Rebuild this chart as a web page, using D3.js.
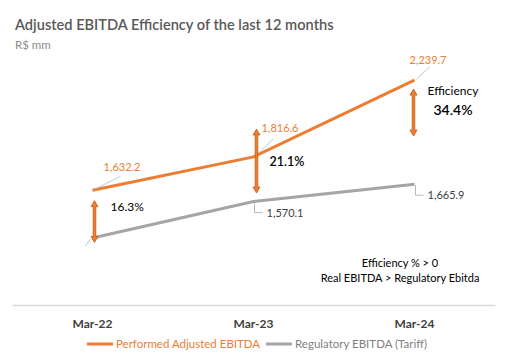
<!DOCTYPE html>
<html>
<head>
<meta charset="utf-8">
<script src="https://cdn.jsdelivr.net/npm/d3@7"></script>
<style>
  body { margin: 0; background: #fff; }
  svg { font-family: Lato, 'Open Sans', sans-serif; }
</style>
</head>
<body>
<svg id="chart" width="507" height="360"></svg>
<script>
// periods on the x axis
const periods = ['Mar-22', 'Mar-23', 'Mar-24'];
// R$ mm, last 12 months
const performed = [1632.2, 1816.6, 2239.7];
const regulatory = [1369.0, 1570.1, 1665.9];
// which points show a value label
const regulatoryLabels = [null, '1,570.1', '1,665.9'];
const performedLabels = ['1,632.2', '1,816.6', '2,239.7'];
// efficiency annotations and the arrows beside them (value units)
const efficiency = ['16.3%', '21.1%', '34.4%'];
const arrowTop = [1575, 1970, 2190];
const arrowBottom = [1345, 1617, 1931];

const svg = d3.select('#chart');

const x = d3.scaleBand()
  .domain(periods)
  .range([12, 495]);

const y = d3.scaleLinear()
  .domain([1000, 2400])
  .range([305, 51]);

const cx = (i) => x(periods[i]) + x.bandwidth() / 2;

// title
svg.append('text')
  .attr('x', 15)
  .attr('y', 30)
  .attr('fill', '#595959')
  .attr('font-size', 14.6)
  .attr('font-weight', 600)
  .text('Adjusted EBITDA Efficiency of the last 12 months');

svg.append('text')
  .attr('x', 15)
  .attr('y', 49)
  .attr('fill', '#8c8c8c')
  .attr('font-size', 11.5)
  .text('R$ mm');

// category axis
const xAxis = svg.append('g')
  .attr('transform', `translate(0, ${y(1000)})`)
  .call(d3.axisBottom(x).tickSize(0).tickPadding(14));
xAxis.select('.domain').attr('stroke', '#d9d9d9').attr('stroke-width', 1.5);
xAxis.selectAll('text')
  .attr('font-family', 'Lato, sans-serif')
  .attr('font-size', 12)
  .attr('font-weight', 700)
  .attr('fill', '#404040');

const line = d3.line()
  .x((d, i) => cx(i))
  .y((d) => y(d));

svg.append('path')
  .datum(regulatory)
  .attr('d', line)
  .attr('fill', 'none')
  .attr('stroke', '#a5a5a5')
  .attr('stroke-width', 3);

svg.append('path')
  .datum(performed)
  .attr('d', line)
  .attr('fill', 'none')
  .attr('stroke', '#ed7d31')
  .attr('stroke-width', 3);

// leader lines + labels for the performed series
const leaderColor = '#a9bcd0';
const leadDx = [28, 20, 15];
const leadDy = [14, 18, 13];
const labDx = [11, 8, -5];
const labDy = [19, 25, 16];
performed.forEach((v, i) => {
  const px = cx(i), py = y(v);
  svg.append('line')
    .attr('x1', px + 2).attr('y1', py - 1)
    .attr('x2', px + leadDx[i]).attr('y2', py - leadDy[i])
    .attr('stroke', leaderColor)
    .attr('stroke-width', 0.8);
  svg.append('text')
    .attr('x', px + labDx[i])
    .attr('y', py - labDy[i])
    .attr('fill', '#ed7d31')
    .attr('font-size', 11)
    .text(performedLabels[i]);
});

// leader lines + labels for the regulatory series
regulatory.forEach((v, i) => {
  const px = cx(i), py = y(v);
  if (!regulatoryLabels[i]) {
    svg.append('line')
      .attr('x1', px - 2).attr('y1', py + 1)
      .attr('x2', px - 7).attr('y2', py + 8)
      .attr('stroke', leaderColor)
      .attr('stroke-width', 0.8);
    return;
  }
  svg.append('path')
    .attr('d', `M${px + 1},${py + 1}V${py + 11}H${px + 9}`)
    .attr('fill', 'none')
    .attr('stroke', '#a6a6a6')
    .attr('stroke-width', 0.8);
  svg.append('text')
    .attr('x', px + 13)
    .attr('y', py + 15)
    .attr('fill', '#404040')
    .attr('font-size', 11)
    .text(regulatoryLabels[i]);
});

// double-headed efficiency arrows
const arrowDx = [2, 3, -1];
arrowTop.forEach((top, i) => {
  const ax = cx(i) + arrowDx[i];
  const y1 = y(top), y2 = y(arrowBottom[i]);
  const hw = 3.5, hl = 6, sw = 1.3;
  const d = `M${ax},${y1}L${ax + hw},${y1 + hl}L${ax + sw},${y1 + hl}` +
    `L${ax + sw},${y2 - hl}L${ax + hw},${y2 - hl}L${ax},${y2}` +
    `L${ax - hw},${y2 - hl}L${ax - sw},${y2 - hl}L${ax - sw},${y1 + hl}` +
    `L${ax - hw},${y1 + hl}Z`;
  svg.append('path')
    .attr('d', d)
    .attr('fill', '#ed7d31')
    .attr('stroke', '#c55a11')
    .attr('stroke-width', 0.8);
});

// efficiency text
svg.append('text')
  .attr('x', cx(0) + 18)
  .attr('y', y(1540) + 4)
  .attr('font-size', 12)
  .attr('fill', '#000')
  .text(efficiency[0]);

svg.append('text')
  .attr('x', cx(1) + 16)
  .attr('y', y(1790) + 4)
  .attr('font-size', 12.5)
  .attr('font-weight', 600)
  .attr('fill', '#000')
  .text(efficiency[1]);

svg.append('text')
  .attr('x', cx(2) + 13)
  .attr('y', 95)
  .attr('font-size', 12)
  .attr('fill', '#000')
  .text('Efficiency');

svg.append('text')
  .attr('x', cx(2) + 19)
  .attr('y', 115)
  .attr('font-size', 14)
  .attr('font-weight', 600)
  .attr('fill', '#000')
  .text(efficiency[2]);

// note
const note = svg.append('text')
  .attr('text-anchor', 'middle')
  .attr('font-size', 11)
  .attr('fill', '#000');
note.append('tspan').attr('x', 400).attr('y', 267).text('Efficiency % > 0');
note.append('tspan').attr('x', 400).attr('y', 282).text('Real EBITDA > Regulatory Ebitda');

// legend
const legend = [
  { name: 'Performed Adjusted EBITDA', color: '#ed7d31', text: '#ed7d31', x: 87 },
  { name: 'Regulatory EBITDA (Tariff)', color: '#a5a5a5', text: '#7f7f7f', x: 266 }
];
const lg = svg.selectAll('.lg').data(legend).enter().append('g')
  .attr('transform', (d) => `translate(${d.x}, 344)`);
lg.append('line')
  .attr('x1', 0).attr('x2', 26)
  .attr('stroke', (d) => d.color)
  .attr('stroke-width', 3);
lg.append('text')
  .attr('x', 29)
  .attr('y', 4)
  .attr('font-size', 11.5)
  .attr('fill', (d) => d.text)
  .text((d) => d.name);
</script>
</body>
</html>
